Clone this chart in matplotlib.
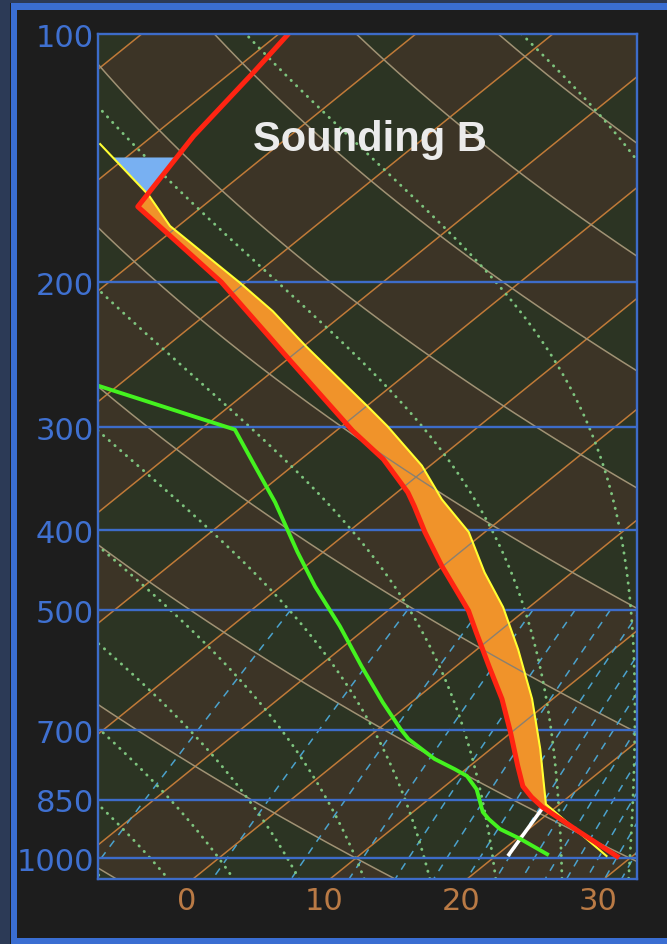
import numpy as np
import matplotlib
matplotlib.use("Agg")
import matplotlib.pyplot as plt
from matplotlib.colors import ListedColormap
from matplotlib.patches import Rectangle
from matplotlib.transforms import ScaledTranslation
from matplotlib.path import Path
from matplotlib import font_manager
from matplotlib.ticker import NullLocator, NullFormatter

# ---------------- data ----------------
title = "Sounding B"
p_ticks = [100, 200, 300, 400, 500, 700, 850, 1000]
t_ticks = [0, 10, 20, 30]

# environment temperature (hPa, degC)
env_p = [100, 111, 133, 162, 200, 249, 303, 328, 360, 374, 402, 442, 501, 532,
         585, 641, 703, 773, 818, 843, 867, 930, 995]
env_t = [-69.3, -68.4, -67.0, -64.7, -51.8, -39.7, -28.8, -24.0, -19.2, -17.5,
         -14.4, -10.1, -4.1, -1.6, 2.4, 6.3, 9.9, 13.5, 15.7, 17.3, 19.0, 24.0, 28.9]

# dew point
dew_p = [267, 302, 334, 370, 425, 468, 523, 585, 647, 697, 717, 758, 780, 795,
         825, 879, 897, 922, 948, 989]
dew_t = [-51.5, -37.5, -32.8, -28.0, -21.9, -17.5, -12.1, -6.9, -2.1, 1.6, 3.1,
         6.8, 9.2, 10.7, 12.6, 15.1, 16.2, 17.9, 20.3, 23.6]

# lifted parcel path
parcel_p = [136, 157, 171, 200, 217, 239, 285, 299, 334, 367, 402, 450, 496,
            558, 641, 737, 860, 994]
parcel_t = [-73.1, -64.9, -60.6, -50.5, -45.4, -39.9, -29.5, -26.7, -20.6, -16.1,
            -11.2, -6.4, -1.9, 3.0, 8.5, 13.6, 19.0, 28.1]

# mixing-ratio segment up to the LCL
mixline_p = [994, 869]
mixline_t = [20.9, 19.1]

cin_top_p = 141

isotherm_vals = np.arange(-120, 50, 10)
dry_adiabat_vals = np.arange(-50, 250, 20)     # theta at 1000 hPa, degC
moist_adiabat_vals = np.arange(-30, 46, 5)     # degC at 1000 hPa
mixing_ratio_vals = np.arange(2, 32, 2)        # g/kg

# ---------------- geometry ----------------
P_BOT, P_TOP = 1060.0, 100.0
SKEW = 32.3
X_LEFT, X_RIGHT = -6.93, 32.4
W, H = 667, 945

GREEN_BG = "#2c3423"
BROWN_BG = "#3c3426"
BLUE = "#3d6cc9"
ISO_C = "#c07a38"
DRY_C = "#a09274"
MOIST_C = "#7ec47e"
MIX_C = "#4ba2cc"


def skew_x(t, p):
    return np.asarray(t, float) + SKEW * np.log(P_BOT / np.asarray(p, float))


Rd, Cp, Lv, eps = 287.04, 1005.7, 2.501e6, 0.622


def dT_dlnp(T, p):
    tc = T - 273.15
    es = 6.112 * np.exp(17.67 * tc / (tc + 243.5))
    rs = eps * es / (p - es)
    return (Rd * T + Lv * rs) / (Cp + Lv * Lv * rs * eps / (Rd * T * T))


def moist_adiabat(t0c):
    res = []
    for grid in (np.linspace(np.log(1000), np.log(P_TOP * 0.97), 300),
                 np.linspace(np.log(1000), np.log(P_BOT * 1.02), 20)):
        T = t0c + 273.15
        Ts = [T]
        for i in range(1, len(grid)):
            h = grid[i] - grid[i - 1]
            p0, pm, p1 = np.exp(grid[i - 1]), np.exp(grid[i - 1] + h / 2), np.exp(grid[i])
            k1 = dT_dlnp(T, p0)
            k2 = dT_dlnp(T + h * k1 / 2, pm)
            k3 = dT_dlnp(T + h * k2 / 2, pm)
            k4 = dT_dlnp(T + h * k3, p1)
            T = T + h * (k1 + 2 * k2 + 2 * k3 + k4) / 6
            Ts.append(T)
        res.append((np.exp(grid), np.array(Ts) - 273.15))
    p = np.concatenate([res[1][0][::-1], res[0][0][1:]])
    t = np.concatenate([res[1][1][::-1], res[0][1][1:]])
    return p, t


names = {f.name for f in font_manager.fontManager.ttflist}
if "Liberation Sans Narrow" in names:
    TICK_FONT = ["Liberation Sans Narrow", "DejaVu Sans"]
    TICK_SIZE = 26
else:
    TICK_FONT = ["DejaVu Sans"]
    TICK_SIZE = 22

fig = plt.figure(figsize=(W / 100, H / 100), dpi=100)
fig.patch.set_facecolor("#1d1d1d")

# outer decoration
fig.add_artist(Rectangle((0, 0), 10 / W, 1, transform=fig.transFigure,
                         color="#2c3a56", lw=0))
fig.add_artist(Rectangle((0, 1 - 4 / H), 1, 4 / H, transform=fig.transFigure,
                         color="#2c3a56", lw=0))
fig.add_artist(Rectangle((11 / W, 0), 6 / W, 1 - 4 / H, transform=fig.transFigure,
                         color="#3a6ed2", lw=0))
fig.add_artist(Rectangle((11 / W, 1 - 11 / H), 1, 7 / H, transform=fig.transFigure,
                         color="#3a6ed2", lw=0))
fig.add_artist(Rectangle((11 / W, 0), 1, 6 / H, transform=fig.transFigure,
                         color="#3a6ed2", lw=0))

ax = fig.add_axes([98 / W, 65 / H, 539 / W, 845 / H])
ax.set_yscale("log")
ax.set_xlim(X_LEFT, X_RIGHT)
ax.set_ylim(P_BOT, P_TOP)

# checkerboard background (isotherm bands x dry-adiabat bands)
xs = np.linspace(X_LEFT, X_RIGHT, 700)
ps = np.logspace(np.log10(P_TOP), np.log10(P_BOT), 1000)
XX, PP = np.meshgrid(xs, ps)
TT = XX - SKEW * np.log(P_BOT / PP)
TH = (TT + 273.15) * (1000.0 / PP) ** 0.2857
idx = np.floor(TT / 10) + np.floor((TH - 283.15) / 20)
ax.pcolormesh(XX, PP, np.mod(idx, 2), cmap=ListedColormap([BROWN_BG, GREEN_BG]),
              shading="nearest", rasterized=True, zorder=0)

pg_line = np.logspace(np.log10(P_TOP * 0.97), np.log10(P_BOT * 1.02), 200)

bg_lines = []
for t in isotherm_vals:
    ln, = ax.plot(skew_x(np.full_like(pg_line, t), pg_line), pg_line,
                  color=ISO_C, lw=1.1, zorder=1)
    bg_lines.append(ln)
for th in dry_adiabat_vals:
    tt = (th + 273.15) * (pg_line / 1000.0) ** 0.2857 - 273.15
    ln, = ax.plot(skew_x(tt, pg_line), pg_line, color=DRY_C, lw=1.1, zorder=1)
    bg_lines.append(ln)
for t0 in moist_adiabat_vals:
    pm, tm = moist_adiabat(t0)
    ax.plot(skew_x(tm, pm), pm, color=MOIST_C, lw=2.1, ls=(0, (0.1, 2.5)),
            dash_capstyle="round", zorder=1.2)
pg_mix = np.logspace(np.log10(500), np.log10(P_BOT * 1.02), 100)
for w in mixing_ratio_vals:
    e = w * pg_mix / (622.0 + w)
    le = np.log(e / 6.112)
    td = 243.5 * le / (17.67 - le)
    ax.plot(skew_x(td, pg_mix), pg_mix, color=MIX_C, lw=1.1, ls=(0, (5, 4.5)),
            zorder=1.1)

for p in p_ticks[1:]:
    ln = ax.axhline(p, color=BLUE, lw=1.7, zorder=3)
    bg_lines.append(ln)

# CAPE / CIN areas
pg = np.logspace(np.log10(cin_top_p), np.log10(max(parcel_p)), 800)
lp = np.log(pg)
env_xi = np.interp(lp, np.log(env_p), skew_x(env_t, env_p))
par_xi = np.interp(lp, np.log(parcel_p), skew_x(parcel_t, parcel_p))
warm = par_xi > env_xi
orange = ax.fill_betweenx(pg, env_xi, par_xi, where=warm & (pg < 870),
                          interpolate=True, color="#f0932a", lw=0, zorder=4)
ax.fill_betweenx(pg, env_xi, par_xi, where=(~warm) & (pg < 300),
                 interpolate=True, color="#78b0f2", lw=0, zorder=4)

clip = Path.make_compound_path(*orange.get_paths())
for ln in bg_lines:
    g, = ax.plot(ln.get_xdata(), ln.get_ydata(), color="#8a8070", lw=1.0, zorder=4.5)
    g.set_clip_path(clip, ax.transData)

ax.plot(skew_x(parcel_t, parcel_p), parcel_p, color="#ffff33", lw=1.5, zorder=5)
ax.plot(skew_x(mixline_t, mixline_p), mixline_p, color="white", lw=2.6,
        solid_capstyle="butt", zorder=5)
ax.plot(skew_x(env_t, env_p), env_p, color="#ff2412", lw=3.6, zorder=6,
        solid_joinstyle="round")
ax.plot(skew_x(dew_t, dew_p), dew_p, color="#44f21f", lw=2.8, zorder=6,
        solid_joinstyle="round")

# frame and ticks
for s in ax.spines.values():
    s.set_color(BLUE)
    s.set_linewidth(1.7)
    s.set_zorder(7)
ax.set_yticks(p_ticks)
ax.set_yticklabels([str(p) for p in p_ticks])
ax.yaxis.set_minor_locator(NullLocator())
ax.yaxis.set_minor_formatter(NullFormatter())
ax.set_xticks(t_ticks)
ax.set_xticklabels([str(t) for t in t_ticks])
ax.tick_params(axis="both", which="both", length=0)
ax.tick_params(axis="y", colors="#3f70d0", pad=3)
ax.tick_params(axis="x", colors="#b97a45", pad=5)
for lab in ax.get_yticklabels() + ax.get_xticklabels():
    lab.set_family(TICK_FONT)
    lab.set_fontsize(TICK_SIZE)
for lab in ax.get_xticklabels():
    lab.set_transform(lab.get_transform() + ScaledTranslation(-6 / 100, 0, fig.dpi_scale_trans))

fig.text(370 / W, 1 - 140 / H, title, ha="center", va="center", color="#ebebeb",
         fontsize=30, fontweight="bold", family=["Liberation Sans", "DejaVu Sans"],
         zorder=10)

fig.savefig("out.png", dpi=100, facecolor=fig.get_facecolor())
